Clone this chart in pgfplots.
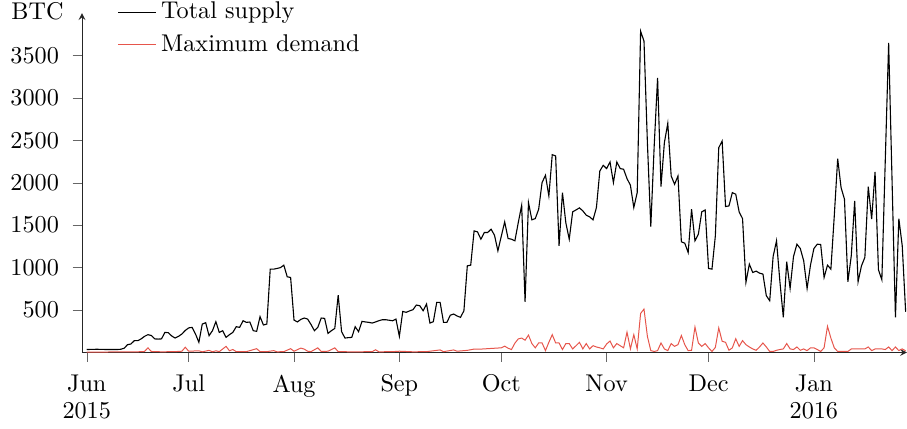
\documentclass[border=0pt,11pt]{standalone}
\usepackage{pgfplots}
\pgfplotsset{compat=1.18}
\definecolor{dem}{RGB}{230,85,75}
\begin{document}
\begin{tikzpicture}
\begin{axis}[
  name=ax,
  scale only axis, width=373.3pt, height=153.6pt,
  axis lines=left,
  axis line style={black!85},
  xmin=-1.4, xmax=241.4, ymin=0, ymax=4000,
  xtick={0,30,61,92,122,153,183,214},
  xticklabels={{Jun\\[-1.4pt]2015},Jul,Aug,Sep,Oct,Nov,Dec,{Jan\\[-1.4pt]2016}},
  xticklabel style={align=center},
  xticklabel shift=2pt,
  ytick={500,1000,1500,2000,2500,3000,3500},
  scaled y ticks=false,
  yticklabel style={/pgf/number format/1000 sep={}},
  yticklabel shift=2.4pt,
  tick align=outside,
  tick style={black!60},
  major tick length=4.2pt,
  ylabel={BTC},
  ylabel style={rotate=-90, at={(axis description cs:0,1)}, anchor=east, xshift=-4.5pt, yshift=0.6pt},
  legend style={draw=none, fill=none, at={(axis description cs:0.035,1)}, anchor=north west, yshift=9.25pt, row sep=1.5pt},
  legend cell align=left,
]
\addplot[black, line width=0.5pt] table {
0 35
3 38
6 35
9 35
10 38
11 50
12 92
13 100
14 139
15 139
16 160
17 190
18 210
19 200
20 160
21 158
22 160
23 237
24 233
25 195
26 170
27 190
28 218
29 260
30 290
31 296
32 218
33 120
34 335
35 351
36 198
37 257
38 363
39 237
40 257
41 178
42 210
43 237
44 304
45 296
46 374
47 355
48 359
49 257
50 249
51 422
52 324
53 335
54 982
55 982
56 990
57 1000
58 1029
59 892
60 884
61 382
62 360
63 390
64 406
65 394
66 330
67 257
68 296
69 406
70 402
71 225
72 257
73 284
74 676
75 245
76 170
77 175
78 178
79 304
80 245
81 367
82 360
83 355
84 347
85 360
86 375
87 386
88 386
89 380
90 374
91 394
92 190
93 484
94 473
95 490
96 504
97 559
98 551
99 492
100 571
101 347
102 363
103 590
104 590
105 355
106 355
107 440
108 453
109 430
110 414
111 492
112 1021
113 1029
114 1433
115 1421
116 1335
117 1414
118 1414
119 1453
120 1382
121 1198
122 1370
123 1539
124 1343
125 1335
126 1316
127 1531
128 1735
129 598
130 1767
131 1563
132 1578
133 1688
134 2002
135 2088
136 1845
137 2331
138 2316
139 1257
140 1884
141 1527
142 1335
143 1657
144 1680
145 1704
146 1669
147 1618
148 1598
149 1563
150 1708
151 2139
152 2206
153 2167
154 2245
155 2002
156 2245
157 2167
158 2159
159 2049
160 1971
161 1708
162 1884
163 3786
164 3669
165 2473
166 1484
167 2433
168 3237
169 1955
170 2473
171 2700
172 2080
173 1982
174 2080
175 1304
176 1288
177 1178
178 1688
179 1316
180 1394
181 1657
182 1680
183 990
184 982
185 1374
186 2413
187 2492
188 1720
189 1727
190 1884
191 1865
192 1657
193 1578
194 826
195 1041
196 943
197 959
198 935
199 924
200 669
201 610
202 1131
203 1316
204 833
205 414
206 1069
207 755
208 1131
209 1276
210 1225
211 1080
212 755
213 1030
214 1225
215 1276
216 1272
217 884
218 1029
219 982
220 1610
221 2284
222 1943
223 1806
224 833
225 1139
226 1786
227 833
228 1021
229 1120
230 1955
231 1571
232 2127
233 974
234 857
236 3649
238 414
239 1578
240 1257
241 480
};
\addlegendentry{Total supply}
\addplot[dem, line width=0.45pt] table {
0 5
5 5
10 8
15 8
17 12
18 55
19 12
22 8
26 10
28 15
29 62
30 15
33 20
34 8
36 25
37 8
38 20
39 10
41 72
42 20
43 35
44 10
47 10
50 45
51 10
53 10
55 22
56 8
58 10
60 45
61 15
63 52
64 40
65 15
66 10
68 55
69 12
71 15
73 55
74 10
78 8
80 8
84 10
85 32
86 8
90 10
92 15
96 8
100 10
104 30
105 10
108 30
109 15
112 25
114 40
116 40
118 45
120 50
122 55
123 75
124 50
125 35
126 110
127 160
128 170
129 145
130 205
131 105
132 55
133 112
134 112
135 22
136 120
137 210
138 112
139 112
140 35
141 105
142 105
143 42
144 80
145 120
146 42
147 105
148 42
149 80
150 65
151 55
152 42
153 100
154 135
155 55
156 105
157 80
158 55
159 240
160 42
161 210
162 42
163 460
164 512
165 190
166 22
167 12
168 22
169 112
170 42
171 22
172 105
173 72
174 92
175 200
176 92
177 22
178 26
179 300
180 112
181 72
182 105
183 55
184 12
185 60
186 290
187 132
188 120
189 26
190 55
191 162
192 72
193 140
194 92
195 65
196 42
197 26
198 65
199 112
200 65
201 12
202 12
203 26
204 35
205 42
206 105
207 42
208 35
209 65
210 26
211 42
212 22
213 55
214 55
215 35
216 12
217 55
218 308
219 170
220 55
221 12
222 12
223 12
224 12
225 42
226 42
227 42
228 42
229 42
230 65
231 22
232 42
233 42
234 42
235 35
236 65
237 22
238 65
239 22
240 42
241 20
};
\addlegendentry{Maximum demand}
\end{axis}
\pgfresetboundingbox
\path[use as bounding box] ([xshift=-37.1pt,yshift=-34.6pt]ax.south west) rectangle ([yshift=5.9pt]ax.north east);
\end{tikzpicture}
\end{document}
